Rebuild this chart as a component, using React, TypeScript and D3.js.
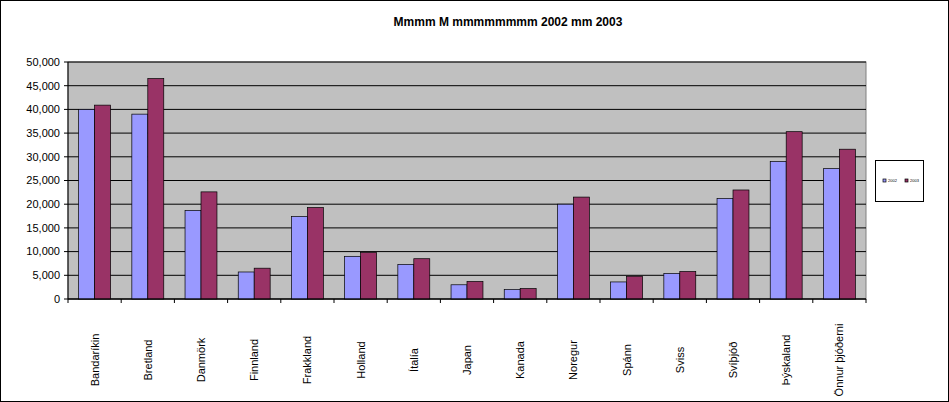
import * as d3 from 'd3'

const categories = ['Bandaríkin', 'Bretland', 'Danmörk', 'Finnland', 'Frakkland', 'Holland', 'Ítalía', 'Japan', 'Kanada', 'Noregur', 'Spánn', 'Sviss', 'Svíþjóð', 'Þýskaland', 'Önnur þjóðerni']
const values2002 = [40000, 39000, 18700, 5700, 17400, 9000, 7300, 3000, 2000, 20000, 3600, 5400, 21200, 29000, 27500]
const values2003 = [40900, 46500, 22600, 6500, 19300, 9800, 8500, 3700, 2200, 21500, 4800, 5800, 23000, 35300, 31600]
const seriesNames = ['2002', '2003']
const colors = ['#9999FF', '#993366']
const yTicks = d3.range(0, 50001, 5000)

const W = 949
const H = 402
const M = { top: 62, right: 83, bottom: 103, left: 68 }

export default function App() {
  const x = d3.scaleBand().domain(categories).range([M.left, W - M.right])
  const y = d3.scaleLinear().domain([0, 50000]).range([H - M.bottom, M.top])
  const bw = x.bandwidth() * 0.3
  const fmt = d3.format(',')
  const font = 'Arial, "Liberation Sans", sans-serif'

  return (
    <svg width={W} height={H} style={{ position: 'absolute', left: 0, top: 0, fontFamily: font }}>
      <rect x={0.5} y={0.5} width={W - 1} height={H - 1} fill="#fff" stroke="#000" />
      <text x={508} y={26} textAnchor="middle" fontSize={12} fontWeight="bold">Mmmm M mmmmmmmm 2002 mm 2003</text>
      <rect x={M.left} y={M.top} width={W - M.right - M.left} height={H - M.bottom - M.top} fill="#C0C0C0" stroke="#808080" />
      {yTicks.map(t => (
        <g key={t}>
          <line x1={M.left} x2={W - M.right} y1={y(t)} y2={y(t)} stroke="#000" strokeWidth={1} />
          <line x1={M.left - 4} x2={M.left} y1={y(t)} y2={y(t)} stroke="#000" />
          <text x={M.left - 8} y={y(t)} dy="0.35em" textAnchor="end" fontSize={11}>{fmt(t)}</text>
        </g>
      ))}
      {categories.map((c, i) => {
        const x0 = x(c)! + x.bandwidth() * 0.2
        return (
          <g key={c}>
            <rect x={x0} y={y(values2002[i])} width={bw} height={y(0) - y(values2002[i])} fill={colors[0]} stroke="#000" strokeWidth={0.7} />
            <rect x={x0 + bw} y={y(values2003[i])} width={bw} height={y(0) - y(values2003[i])} fill={colors[1]} stroke="#000" strokeWidth={0.7} />
            <text transform={`translate(${x(c)! + x.bandwidth() / 2 + 4},360) rotate(-90)`} textAnchor="middle" fontSize={11}>{c}</text>
          </g>
        )
      })}
      <line x1={M.left} x2={W - M.right} y1={y(0)} y2={y(0)} stroke="#000" />
      <line x1={M.left} x2={M.left} y1={M.top} y2={y(0)} stroke="#000" />
      {d3.range(categories.length + 1).map(i => {
        const xx = M.left + i * x.step()
        return <line key={i} x1={xx} x2={xx} y1={y(0)} y2={y(0) + 4} stroke="#000" />
      })}
      <rect x={875.5} y={160.5} width={48} height={41} fill="#fff" stroke="#000" />
      {seriesNames.map((s, i) => (
        <g key={s}>
          <rect x={883 + i * 22} y={179} width={3} height={3} fill={colors[i]} stroke="#000" strokeWidth={0.7} />
          <text x={888 + i * 22} y={182} fontSize={4}>{s}</text>
        </g>
      ))}
    </svg>
  )
}
